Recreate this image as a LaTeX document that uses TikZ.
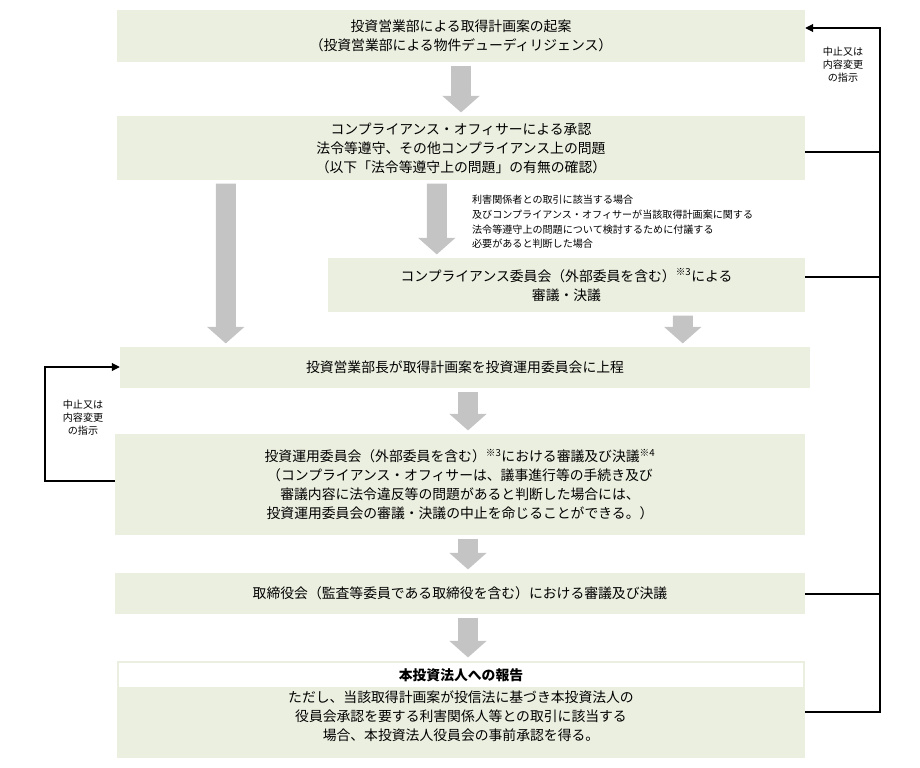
\documentclass[tikz,border=0pt]{standalone}
\usepackage{fontspec}
\setmainfont{Noto Sans CJK JP}
\usepackage{tikz}
\usetikzlibrary{arrows.meta,calc,positioning}

\definecolor{boxfill}{HTML}{EBEFE0}
\definecolor{arrowgray}{HTML}{C4C4C4}

\begin{document}
\begin{tikzpicture}
[
x=0.3mm, y=-0.3mm,
flowbox/.style={rectangle, fill=boxfill, inner sep=0pt, align=center, font=\fontsize{11.8}{16.2}\selectfont},
headbox/.style={rectangle, fill=white, inner sep=0pt, font=\fontsize{11.8}{14}\selectfont\bfseries},
garrow/.style={draw=arrowgray, line width=6mm, -{Triangle[width=11mm,length=5mm]}, shorten <=1mm, shorten >=1mm},
fback/.style={draw=black, line width=0.9pt, -{Triangle[width=2.4mm,length=2.4mm]}},
note/.style={align=left, font=\fontsize{8.6}{12.6}\selectfont},
hint/.style={align=center, font=\fontsize{8.6}{11}\selectfont}
]
\useasboundingbox (0,0) rectangle (920,768);

%Nodes
\node[flowbox, minimum width=206.4mm, minimum height=15.6mm] (plan)    at (461,36)
  {投資営業部による取得計画案の起案\\（投資営業部による物件デューディリジェンス）};
\node[flowbox, minimum width=206.4mm, minimum height=19.2mm] (comply)  at (461,148)
  {コンプライアンス・オフィサーによる承認\\法令等遵守、その他コンプライアンス上の問題\\（以下「法令等遵守上の問題」の有無の確認）};
\node[flowbox, minimum width=143.1mm, minimum height=16.2mm] (cttee)   at (566.5,285)
  {コンプライアンス委員会（外部委員を含む）\textsuperscript{※3}による\\審議・決議};
\node[flowbox, minimum width=207mm,   minimum height=12.3mm] (submit)  at (465,367.5)
  {投資営業部長が取得計画案を投資運用委員会に上程};
\node[flowbox, minimum width=207mm,   minimum height=30.3mm] (invest)  at (460,484.5)
  {投資運用委員会（外部委員を含む）\textsuperscript{※3}における審議及び決議\textsuperscript{※4}\\（コンプライアンス・オフィサーは、議事進行等の手続き及び\\審議内容に法令違反等の問題があると判断した場合には、\\投資運用委員会の審議・決議の中止を命じることができる。）};
\node[flowbox, minimum width=207mm,   minimum height=12.3mm] (board)   at (460,593.5)
  {取締役会（監査等委員である取締役を含む）における審議及び決議};
\node[flowbox, minimum width=206.4mm, minimum height=29.1mm] (report)  at (461,709.5) {};
\node[headbox, minimum width=205.2mm, minimum height=7.2mm, below=0.6mm of report.north] (rephead) {本投資法人への報告};
\node[flowbox, below=1mm of rephead] (reptext)
  {ただし、当該取得計画案が投信法に基づき本投資法人の\\役員会承認を要する利害関係人等との取引に該当する\\場合、本投資法人役員会の事前承認を得る。};
\node[note, anchor=north west] (cond) at (468,191)
  {利害関係者との取引に該当する場合\\及びコンプライアンス・オフィサーが当該取得計画案に関する\\法令等遵守上の問題について検討するために付議する\\必要があると判断した場合};
\node[hint] (stopr) at (843,65) {中止又は\\内容変更\\の指示};
\node[hint] (stopl) at (83,418) {中止又は\\内容変更\\の指示};
\coordinate (rtop) at (880,28);
\coordinate (rbot) at (880,712);
\coordinate (ltop) at (45,367);
\coordinate (lbot) at (45,481);

%Lines
\draw[garrow] (plan) -- (comply);
\draw[garrow] ($(comply.south west)+(109,0)$) -- ($(submit.north west)+(106,0)$);
\draw[garrow] ($(comply.south west)+(320,0)$) -- ($(cttee.north west)+(109,0)$);
\draw[garrow] ($(cttee.south west)+(355,0)$) -- ($(submit.north west)+(563,0)$);
\draw[garrow] ($(submit.south)+(3,0)$) -- ($(invest.north)+(8,0)$);
\draw[garrow] ($(invest.south)+(8,0)$) -- ($(board.north)+(8,0)$);
\draw[garrow] ($(board.south)+(8,0)$) -- ($(report.north)+(7,0)$);

\draw[line width=0.9pt] (comply.east |- 0,152) -- (rtop |- 0,152);
\draw[line width=0.9pt] (cttee.east |- 0,277) -- (rtop |- 0,277);
\draw[line width=0.9pt] (board.east |- 0,594) -- (rtop |- 0,594);
\draw[fback] (report.east |- rbot) -- (rbot) -- (rtop) -- (plan.east |- rtop);
\draw[fback] (invest.west |- lbot) -- (lbot) -- (ltop) -- (submit.west |- ltop);
\end{tikzpicture}
\end{document}
